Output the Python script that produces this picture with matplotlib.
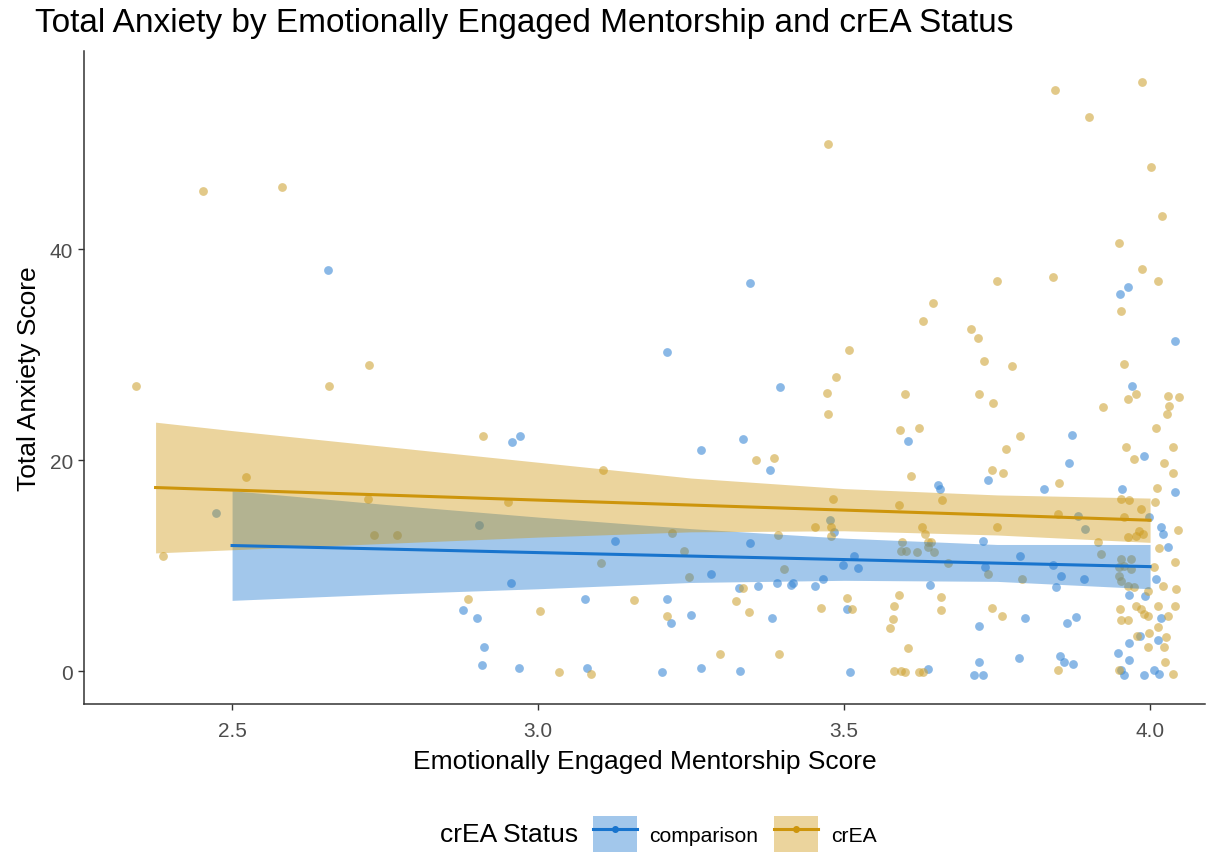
import numpy as np
import matplotlib
matplotlib.use("Agg")
import matplotlib.pyplot as plt
from matplotlib.patches import Patch
from matplotlib.lines import Line2D

plt.rcParams["font.family"] = ["Liberation Sans", "DejaVu Sans"]

# jittered scatter
comp_x = [2.474, 2.657, 2.904, 2.877, 2.900, 2.912, 2.908, 3.346, 3.211, 3.395,
          2.958, 2.971, 3.266, 3.335, 3.379, 3.477, 3.484, 3.126, 3.346, 3.283,
          2.956, 3.328, 3.359, 3.391, 3.413, 3.417, 3.453, 3.466, 3.077, 3.211,
          3.217, 3.250, 3.382, 2.969, 3.080, 3.203, 3.266, 3.330, 3.605, 3.735,
          3.654, 3.657, 3.727, 3.516, 3.498, 3.523, 3.788, 3.730, 3.641, 3.505,
          3.796, 3.721, 3.786, 3.721, 3.510, 3.637, 3.712, 3.727, 3.951, 3.964,
          4.041, 3.971, 3.873, 3.990, 3.868, 3.827, 3.954, 4.041, 3.882, 3.894,
          3.998, 4.018, 4.021, 4.029, 3.841, 3.855, 3.892, 3.846, 4.010, 3.966,
          3.992, 4.018, 3.864, 3.879, 3.984, 4.013, 3.966, 3.948, 3.853, 3.859,
          3.874, 3.966, 3.953, 3.958, 3.990, 4.007, 4.015]
comp_y = [15.0, 38.0, 13.8, 5.8, 5.0, 2.3, 0.6, 36.8, 30.3, 26.9,
          21.7, 22.3, 21.0, 22.0, 19.1, 14.3, 13.2, 12.3, 12.1, 9.2,
          8.3, 7.9, 8.1, 8.3, 8.2, 8.3, 8.1, 8.7, 6.8, 6.8,
          4.6, 5.3, 5.0, 0.3, 0.3, -0.1, 0.3, 0.0, 21.8, 18.1,
          17.6, 17.3, 12.3, 10.9, 10.1, 9.8, 10.9, 9.9, 8.2, 5.9,
          5.0, 4.3, 1.2, 0.9, -0.1, 0.2, -0.4, -0.4, 35.8, 36.4,
          31.3, 27.0, 22.4, 20.4, 19.7, 17.3, 17.3, 17.0, 14.7, 13.5,
          14.6, 13.7, 13.0, 11.8, 10.1, 9.0, 8.7, 8.0, 8.7, 7.2,
          7.1, 5.0, 4.6, 5.1, 3.3, 2.9, 2.7, 1.7, 1.4, 0.9,
          0.7, 1.0, 0.1, -0.4, -0.4, 0.1, -0.3]

crea_x = [2.453, 2.582, 2.724, 2.343, 2.658, 2.910, 2.523, 2.722, 2.732, 2.770,
          2.387, 2.886, 3.474, 3.487, 3.472, 3.474, 3.356, 3.386, 3.106, 2.951,
          3.482, 3.453, 3.479, 3.479, 3.392, 3.219, 3.239, 3.103, 3.247, 3.402,
          3.335, 3.157, 3.324, 3.003, 3.345, 3.462, 3.211, 3.297, 3.394, 3.034,
          3.087, 3.750, 3.645, 3.629, 3.708, 3.719, 3.508, 3.729, 3.775, 3.600,
          3.721, 3.743, 3.592, 3.623, 3.788, 3.765, 3.742, 3.760, 3.609, 3.660,
          3.590, 3.627, 3.750, 3.632, 3.637, 3.642, 3.595, 3.593, 3.601, 3.619,
          3.637, 3.647, 3.670, 3.735, 3.791, 3.590, 3.505, 3.658, 3.582, 3.513,
          3.658, 3.742, 3.758, 3.580, 3.575, 3.605, 3.582, 3.593, 3.600, 3.623,
          3.629, 3.845, 3.987, 3.900, 4.002, 4.020, 3.949, 3.841, 3.987, 4.013,
          3.953, 3.958, 3.964, 3.977, 4.029, 4.047, 4.031, 4.028, 3.923, 4.010,
          3.961, 4.038, 3.974, 4.023, 4.038, 3.851, 4.011, 3.953, 3.966, 4.008,
          3.985, 3.850, 3.958, 4.046, 3.982, 3.989, 3.964, 3.977, 3.915, 3.920,
          4.015, 4.041, 3.953, 3.969, 3.949, 3.958, 3.969, 4.007, 3.949, 3.953,
          3.964, 3.974, 4.021, 4.042, 3.997, 4.013, 4.041, 3.977, 3.985, 3.990,
          3.997, 3.951, 3.953, 3.964, 4.029, 4.013, 3.998, 3.979, 4.026, 3.997,
          4.023, 4.025, 3.850, 3.949, 4.038]
crea_y = [45.5, 45.9, 29.0, 27.0, 27.0, 22.3, 18.4, 16.3, 12.9, 12.9,
          10.9, 6.8, 50.0, 27.9, 26.4, 24.4, 20.0, 20.2, 19.1, 16.0,
          16.3, 13.7, 13.7, 12.8, 12.9, 13.1, 11.4, 10.2, 8.9, 9.7,
          7.9, 6.7, 6.6, 5.7, 5.6, 6.0, 5.2, 1.6, 1.6, -0.1,
          -0.3, 37.0, 34.9, 33.2, 32.4, 31.6, 30.4, 29.4, 28.9, 26.3,
          26.3, 25.4, 22.9, 23.0, 22.3, 21.1, 19.1, 18.8, 18.5, 16.2,
          15.7, 13.7, 13.7, 13.0, 12.2, 12.2, 12.2, 11.4, 11.4, 11.3,
          11.8, 11.3, 10.2, 9.2, 8.7, 7.2, 6.9, 7.0, 6.2, 5.9,
          5.8, 6.0, 5.2, 4.9, 4.1, 2.2, 0.0, 0.0, -0.1, -0.1,
          -0.1, 55.1, 55.9, 52.5, 47.8, 43.2, 40.6, 37.4, 38.1, 37.0,
          34.1, 29.1, 25.8, 26.3, 26.1, 26.0, 25.1, 24.4, 25.0, 23.0,
          21.2, 21.2, 20.1, 19.7, 18.8, 17.8, 17.4, 16.3, 16.2, 16.0,
          15.4, 14.9, 14.6, 13.4, 13.3, 13.0, 12.7, 12.8, 12.2, 11.1,
          11.7, 10.3, 10.6, 10.6, 9.9, 10.0, 9.7, 9.9, 9.0, 8.5,
          8.1, 8.0, 8.1, 7.8, 7.6, 6.2, 6.2, 6.2, 5.9, 5.4,
          5.2, 5.9, 4.8, 4.8, 5.2, 4.2, 3.6, 3.3, 3.2, 2.3,
          2.3, 0.9, 0.1, 0.1, -0.3]

# lm fit + 95% band
comp_fit_x = [2.5, 2.75, 3.0, 3.25, 3.5, 3.75, 4.0]
comp_fit = [11.9, 11.57, 11.23, 10.9, 10.57, 10.23, 9.9]
comp_lo = [6.7, 7.3, 7.8, 8.4, 8.6, 8.5, 7.8]
comp_hi = [17.1, 15.8, 14.6, 13.5, 12.6, 12.0, 12.0]

crea_fit_x = [2.375, 2.5, 2.75, 3.0, 3.25, 3.5, 3.75, 4.0]
crea_fit = [17.4, 17.16, 16.69, 16.21, 15.74, 15.26, 14.79, 14.3]
crea_lo = [11.2, 11.5, 12.1, 12.7, 13.2, 13.3, 12.9, 12.2]
crea_hi = [23.6, 22.8, 21.3, 19.8, 18.3, 17.3, 16.7, 16.4]

groups = ["comparison", "crEA"]
line_colors = {"comparison": "#1874CD", "crEA": "#CD950C"}
point_colors = {"comparison": "#3D8AD6", "crEA": "#CFA53A"}

points = {"comparison": (comp_x, comp_y), "crEA": (crea_x, crea_y)}
fits = {"comparison": (comp_fit_x, comp_fit, comp_lo, comp_hi),
        "crEA": (crea_fit_x, crea_fit, crea_lo, crea_hi)}

fig = plt.figure(figsize=(12.24, 8.53), dpi=100)
ax = fig.add_axes([0.0686, 0.1735, 0.916, 0.7655])

for g in groups:
    gx, gy = points[g]
    ax.scatter(gx, gy, s=40, color=point_colors[g], alpha=0.6, linewidths=0, zorder=2)
for g in groups:
    fx, fm, flo, fhi = fits[g]
    ax.fill_between(fx, flo, fhi, color=line_colors[g], alpha=0.4, linewidth=0, zorder=3)
    ax.plot(fx, fm, color=line_colors[g], linewidth=2.2, zorder=4)

ax.set_xlim(2.258, 4.09)
ax.set_ylim(-3.13, 58.8)
ax.set_xticks([2.5, 3.0, 3.5, 4.0])
ax.set_xticklabels(["2.5", "3.0", "3.5", "4.0"])
ax.set_yticks([0, 20, 40])
ax.tick_params(labelcolor="#4D4D4D", labelsize=15, length=4, width=1, color="#333333")
ax.tick_params(axis="x", pad=8)
ax.tick_params(axis="y", pad=4)
for side in ["top", "right"]:
    ax.spines[side].set_visible(False)
for side in ["left", "bottom"]:
    ax.spines[side].set_color("#333333")
    ax.spines[side].set_linewidth(1.1)

ax.set_xlabel("Emotionally Engaged Mentorship Score", fontsize=19, labelpad=7)
ax.set_ylabel("Total Anxiety Score", fontsize=19, labelpad=6)
fig.text(0.029, 0.972, "Total Anxiety by Emotionally Engaged Mentorship and crEA Status",
         fontsize=24, va="center", ha="left")

handles = []
for g in groups:
    handles.append((Patch(facecolor=line_colors[g], alpha=0.4, linewidth=0),
                    Line2D([], [], color=line_colors[g], linewidth=2.2, marker="o",
                           markersize=4)))
fig.text(0.3595, 0.021, "crEA Status", fontsize=19, va="center", ha="left")
fig.legend(handles, groups, loc="center left", bbox_to_anchor=(0.4845, 0.021),
           ncol=2, frameon=False, fontsize=15.2, handlelength=2.08, handleheight=2.2,
           handletextpad=0.6, columnspacing=0.75, borderaxespad=0, borderpad=0)

fig.savefig("out.png", dpi=100)
